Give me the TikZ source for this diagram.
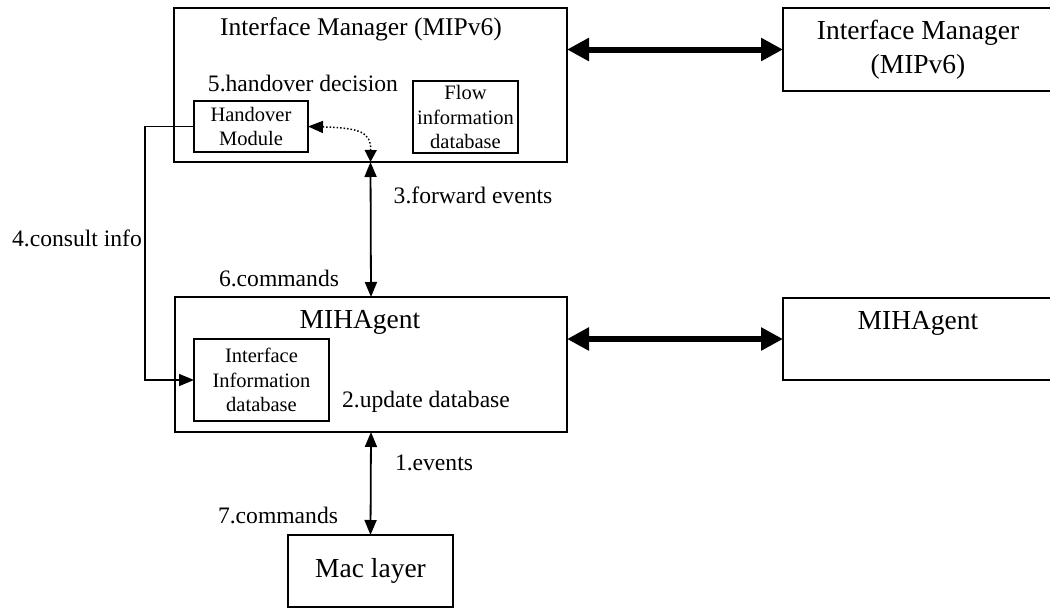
\documentclass[tikz,border=0pt]{standalone}
\usepackage{fontspec}
\setmainfont{Liberation Serif}
\usetikzlibrary{arrows.meta}
\tikzset{
  frame/.style={draw, line width=1.5pt, inner sep=0pt, outer sep=0pt, align=center},
  title/.style={font=\fontsize{27.5}{34}\selectfont, align=center, inner sep=0pt},
  toptitle/.style={font=\fontsize{25.5}{30}\selectfont, inner sep=0pt},
  lbl/.style={font=\fontsize{23.6}{28}\selectfont, inner sep=0pt},
  small/.style={font=\fontsize{20.5}{24.5}\selectfont},
  tip/.style={Triangle[length=15pt,width=12pt]},
  link/.style={line width=1.8pt, {Triangle[length=15pt,width=12pt]}-{Triangle[length=15pt,width=12pt]}},
  bus/.style={line width=6pt, {Triangle[length=22pt,width=22pt]}-{Triangle[length=22pt,width=22pt]}},
}
\begin{document}
\begin{tikzpicture}[x=1pt,y=-1pt]
\useasboundingbox (0,0) rectangle (1050,608);

% upper layer: interface managers
\node[frame, minimum width=393pt, minimum height=154pt] (im) at (370.5,85) {};
\node[toptitle] (imt) at (361,29) {Interface Manager (MIPv6)};
\node[frame, minimum width=268pt, minimum height=83pt] (imr) at (917,49.5) {};
\node[title] (imrt) at (918,50) {Interface Manager\\(MIPv6)};

\node[frame, small, minimum width=114pt, minimum height=51pt] (hm) at (251,126.5) {Handover\\Module};
\node[frame, small, minimum width=105pt, minimum height=72pt] (fdb) at (465.5,117) {Flow\\information\\database};
\node[lbl] (hdec) at (303,83) {5.handover decision};

% middle layer: MIH agents
\node[frame, minimum width=392pt, minimum height=135pt] (mih) at (371,364.5) {};
\node[title] (miht) at (360,322) {MIHAgent};
\node[frame, minimum width=268pt, minimum height=82pt] (mihr) at (917,339) {};
\node[title] (mihrt) at (918,323) {MIHAgent};
\node[frame, small, minimum width=135pt, minimum height=82pt] (idb) at (261.5,380) {Interface\\Information\\database};
\node[lbl] (upd) at (426,402) {2.update database};

% lower layer
\node[frame, title, minimum width=165pt, minimum height=72pt] (mac) at (370.5,571) {Mac layer};

% connectors
\draw[bus] (im.east |- imr.west) -- (imr.west);
\draw[bus] (mih.east |- mihr.west) -- (mihr.west);
\draw[link] (im.south) -- (mih.north);
\draw[link] (mih.south) -- (mac.north);
\draw[dotted, line width=1.5pt, {Triangle[length=15pt,width=12pt]}-{Triangle[length=12pt,width=12pt]}]
  (hm.east) .. controls (360,128) and (371,132) .. (im.south);
\coordinate (bend) at (145,0);
\draw[line width=1.5pt, -{Triangle[length=15pt,width=12pt]}] (hm.west) -- (hm.west -| bend) |- (idb.west);

% step labels
\node[lbl] (fwd) at (473,195) {3.forward events};
\node[lbl] (consult) at (77,238) {4.consult info};
\node[lbl] (cmd6) at (279,278) {6.commands};
\node[lbl] (ev) at (434,463) {1.events};
\node[lbl] (cmd7) at (278,515) {7.commands};
\end{tikzpicture}
\end{document}
